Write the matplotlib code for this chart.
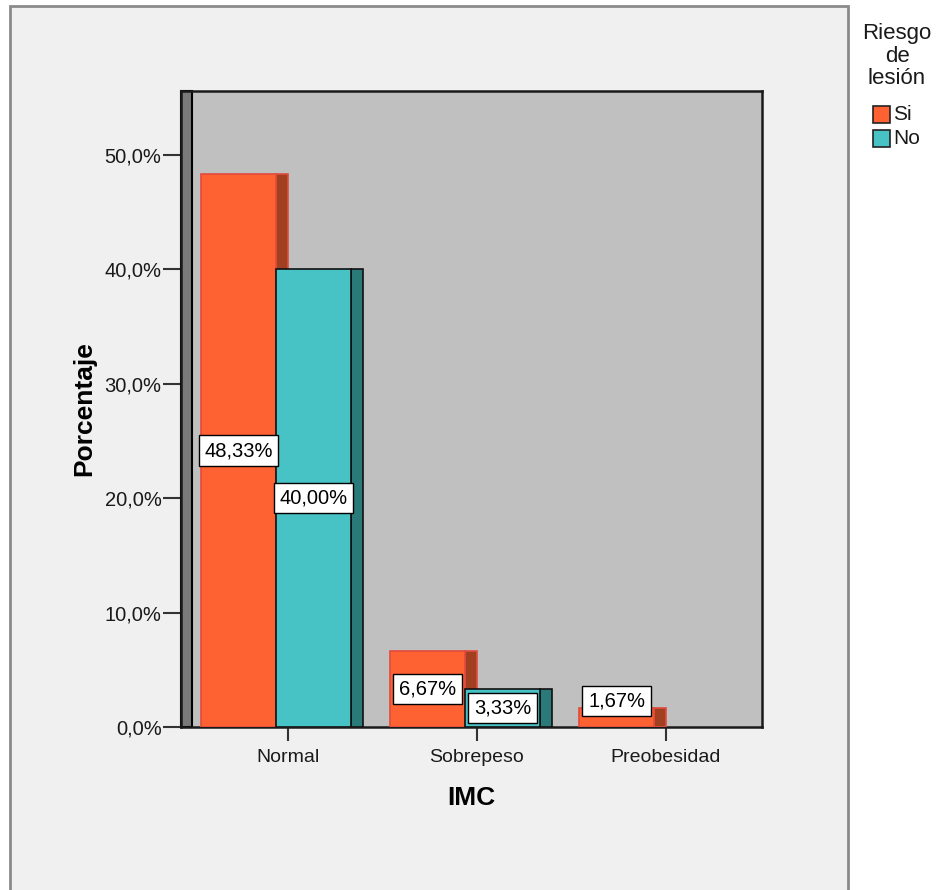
#!/usr/bin/env python3

import matplotlib.pyplot as plt
from matplotlib.patches import Rectangle


##### data #####
CATEGORIES = ["Normal", "Sobrepeso", "Preobesidad"]
SERIES = ["Si", "No"]
PCT_SI = [48.33, 6.67, 1.67]
PCT_NO = [40.00, 3.33, 0.00]
Y_TICKS = [0, 10, 20, 30, 40, 50]

LEGEND_TITLE = ["Riesgo", "de", "lesión"]


##### style settings #####
W, H = 936, 890
FONT = "Liberation Sans"

FRONT = {"Si": "#ff6232", "No": "#47c2c5"}
SIDE = {"Si": "#a04020", "No": "#2b7a7a"}
EDGE = {"Si": "#e24a3c", "No": "#111111"}

BG = "#f0f0f0"
WALL = "#c0c0c0"
SIDE_WALL = "#7a7a7a"

# plot box in pixels
AX_L, AX_R, AX_T, AX_B = 181, 762, 91, 727
CAT_STEP = 189.0          # pixels between categories
FIRST_TICK = 288.0        # pixel of first category tick
PX_PER_PCT = 11.44

FRONT_W = 75 / CAT_STEP
DEPTH = 12 / CAT_STEP
WALL_W = 11 / CAT_STEP

plt.rcParams["font.family"] = [FONT, "DejaVu Sans"]


def fx(x):
    return x / W


def fy(y):
    return 1 - y / H


def pct_label(v, decimals=2):
    return f"{v:.{decimals}f}".replace(".", ",") + "%"


def draw_bar(ax, x0, v, series):
    # front face plus a darker strip on the right for the 3D look
    if v <= 0:
        return
    ax.add_patch(Rectangle((x0 + FRONT_W, 0), DEPTH, v,
                           facecolor=SIDE[series], edgecolor=EDGE[series],
                           linewidth=1.2, zorder=3))
    ax.add_patch(Rectangle((x0, 0), FRONT_W, v,
                           facecolor=FRONT[series], edgecolor=EDGE[series],
                           linewidth=1.2, zorder=4))


def draw_label(ax, xc, v):
    if v <= 0:
        return
    # small bars get the label raised a bit
    ly = v / 2 if v >= 3 else v + 0.6
    ax.text(xc, ly, pct_label(v), ha="center", va="center", fontsize=14.5,
            color="black", zorder=6,
            bbox=dict(boxstyle="square,pad=0.28", facecolor="white",
                      edgecolor="black", linewidth=1.0))


fig = plt.figure(figsize=(W / 100, H / 100), dpi=100)
fig.patch.set_facecolor("white")

##### outer chart frame #####
fig.add_artist(Rectangle((fx(10), fy(H + 20)), fx(848 - 10), (H + 14) / H,
                         transform=fig.transFigure, facecolor=BG,
                         edgecolor="#8a8a8a", linewidth=2.0, zorder=0))

ax = fig.add_axes([fx(AX_L), fy(AX_B), fx(AX_R - AX_L), (AX_B - AX_T) / H])
ax.set_facecolor(WALL)

x_min = (AX_L - FIRST_TICK) / CAT_STEP
x_max = (AX_R - FIRST_TICK) / CAT_STEP
y_max = (AX_B - AX_T) / PX_PER_PCT
ax.set_xlim(x_min, x_max)
ax.set_ylim(0, y_max)

# dark side wall on the left
ax.add_patch(Rectangle((x_min, 0), WALL_W, y_max, facecolor=SIDE_WALL,
                       edgecolor="black", linewidth=1.5, zorder=2,
                       clip_on=False))

##### bars #####
for i in range(len(CATEGORIES)):
    si_x0 = i - FRONT_W - DEPTH
    no_x0 = i - DEPTH
    draw_bar(ax, si_x0, PCT_SI[i], "Si")
    draw_bar(ax, no_x0, PCT_NO[i], "No")
    draw_label(ax, si_x0 + FRONT_W / 2, PCT_SI[i])
    draw_label(ax, no_x0 + FRONT_W / 2, PCT_NO[i])

##### axes #####
for sp in ax.spines.values():
    sp.set_color("#1a1a1a")
    sp.set_linewidth(1.8)

ax.set_yticks(Y_TICKS)
ax.set_yticklabels([pct_label(t, 1) for t in Y_TICKS])
ax.set_xticks(range(len(CATEGORIES)))
ax.set_xticklabels(CATEGORIES)

ax.tick_params(axis="y", length=13, width=1.5, color="#333333",
               labelsize=14.5, labelcolor="#1a1a1a", pad=1)
ax.tick_params(axis="x", length=10, width=1.5, color="#333333",
               labelsize=14, labelcolor="#1a1a1a", pad=6)

ax.set_ylabel("Porcentaje", fontsize=19, fontweight="bold", labelpad=6)
ax.set_xlabel("IMC", fontsize=19, fontweight="bold", labelpad=14)

##### legend #####
for k, line in enumerate(LEGEND_TITLE):
    fig.text(fx(897), fy(33 + 23 * k), line, ha="center", va="center",
             fontsize=16, color="#1a1a1a")

for k, s in enumerate(SERIES):
    top = 106 + 24 * k
    fig.add_artist(Rectangle((fx(873), fy(top + 17)), fx(17), 17 / H,
                             transform=fig.transFigure, facecolor=FRONT[s],
                             edgecolor="#222222", linewidth=1.2))
    fig.text(fx(893), fy(top + 8.5), s, ha="left", va="center",
             fontsize=15, color="#1a1a1a")

plt.savefig("out.png", dpi=100)
plt.close()
